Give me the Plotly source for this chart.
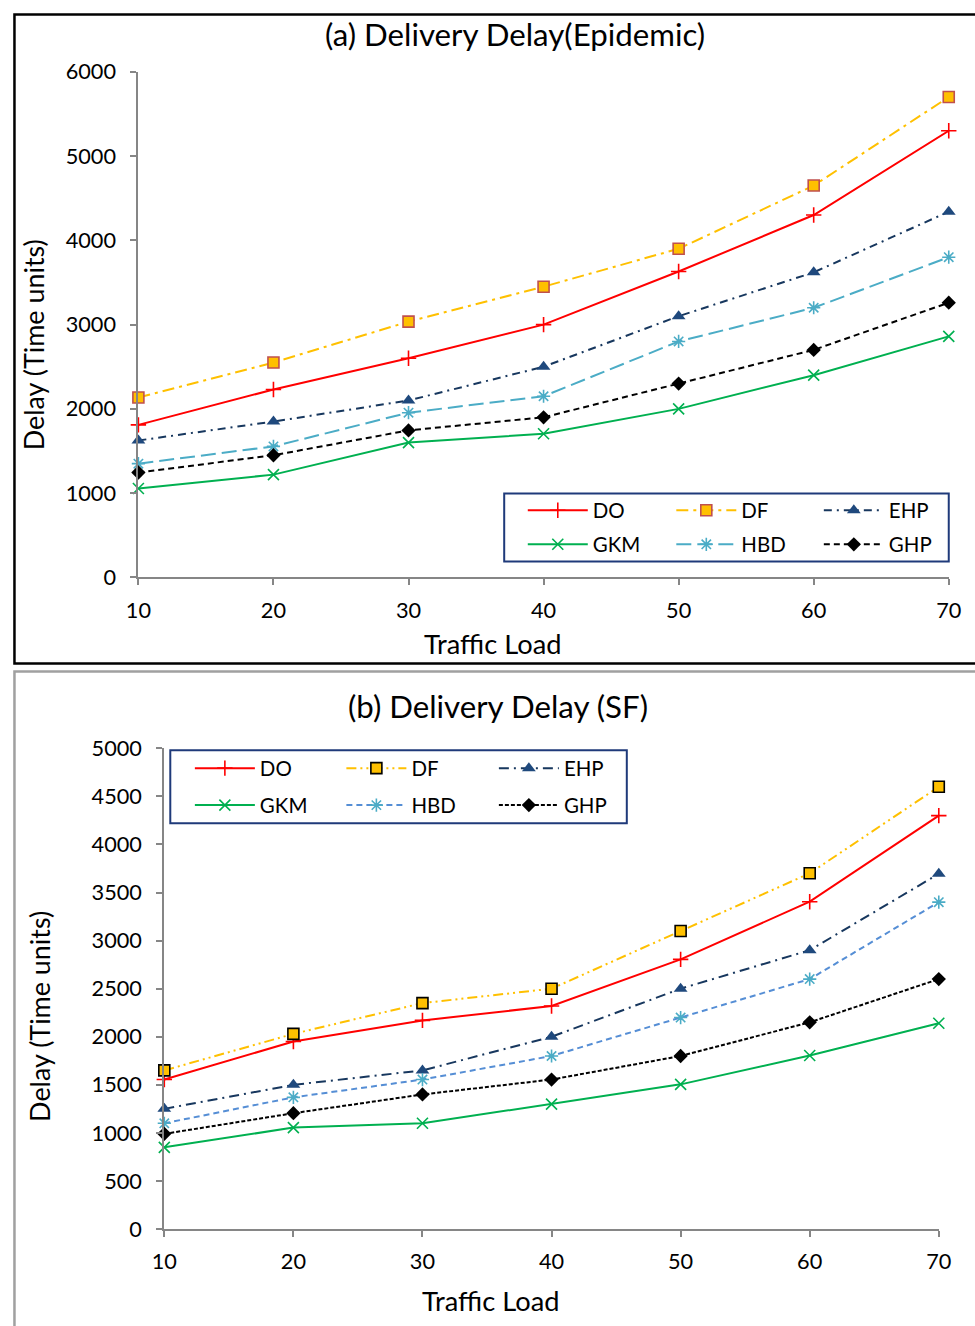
import plotly.graph_objects as go

# ---------------- data ----------------
traffic_load = [10, 20, 30, 40, 50, 60, 70]
series_names = ["DO", "DF", "EHP", "GKM", "HBD", "GHP"]

# (a) Delivery Delay (Epidemic)
epi_DO = [1810, 2230, 2600, 3000, 3630, 4300, 5300]
epi_DF = [2135, 2550, 3035, 3450, 3900, 4650, 5700]
epi_EHP = [1625, 1850, 2100, 2500, 3100, 3620, 4340]
epi_GKM = [1055, 1220, 1600, 1705, 2000, 2400, 2860]
epi_HBD = [1350, 1555, 1955, 2150, 2800, 3200, 3800]
epi_GHP = [1245, 1450, 1745, 1900, 2300, 2700, 3260]

# (b) Delivery Delay (SF)
sf_DO = [1555, 1950, 2170, 2320, 2805, 3405, 4300]
sf_DF = [1650, 2030, 2350, 2500, 3100, 3700, 4600]
sf_EHP = [1250, 1500, 1650, 2000, 2500, 2900, 3695]
sf_GKM = [850, 1055, 1100, 1300, 1505, 1805, 2140]
sf_HBD = [1100, 1370, 1555, 1800, 2200, 2600, 3400]
sf_GHP = [990, 1205, 1400, 1555, 1800, 2150, 2600]

y_ticks_a = [0, 1000, 2000, 3000, 4000, 5000, 6000]
y_ticks_b = [0, 500, 1000, 1500, 2000, 2500, 3000, 3500, 4000, 4500, 5000]

W, H = 975, 1326
FONT = "Lato"

# mapping from target-picture pixels to page pixels (measured from renders)
SX, OXP = 0.9765, 11.2
SY, OYP = 0.981, 13.2

def page_x(x):
    return (x - OXP) / SX

def page_y(y):
    return (y - OYP) / SY

def px_x(x):
    return page_x(x) / W

def px_y(y):
    return 1 - page_y(y) / H

def fs(s):
    return s / SX

styles_a = {
    "DO": dict(line=dict(color="#FF0000", width=2, dash="solid"),
               marker=dict(symbol="cross-thin", size=11, color="#FF0000", line=dict(color="#FF0000", width=1.6))),
    "DF": dict(line=dict(color="#FFC000", width=2, dash="12px,5px,3px,5px"),
               marker=dict(symbol="square", size=11, color="#FFC000", line=dict(color="#C0504D", width=1.6))),
    "EHP": dict(line=dict(color="#17375E", width=2, dash="8px,5px,2px,5px"),
                marker=dict(symbol="triangle-up", size=12, color="#1F497D", line=dict(color="#1F497D", width=0))),
    "GKM": dict(line=dict(color="#00B050", width=2, dash="solid"),
                marker=dict(symbol="x-thin", size=11, color="#00B050", line=dict(color="#00B050", width=1.6))),
    "HBD": dict(line=dict(color="#4BACC6", width=2, dash="15px,6px"),
                marker=dict(symbol="asterisk", size=11, color="#4BACC6", line=dict(color="#4BACC6", width=1.6))),
    "GHP": dict(line=dict(color="#000000", width=2, dash="6px,4px"),
                marker=dict(symbol="diamond", size=11, color="#000000", line=dict(color="#000000", width=0))),
}
styles_b = {
    "DO": dict(line=dict(color="#FF0000", width=2, dash="solid"),
               marker=dict(symbol="cross-thin", size=11, color="#FF0000", line=dict(color="#FF0000", width=1.6))),
    "DF": dict(line=dict(color="#FFC000", width=2, dash="10px,4px,2px,4px,2px,4px"),
               marker=dict(symbol="square", size=11, color="#FFC000", line=dict(color="#000000", width=1.6))),
    "EHP": dict(line=dict(color="#17375E", width=2, dash="10px,5px,2px,5px"),
                marker=dict(symbol="triangle-up", size=12, color="#1F497D", line=dict(color="#1F497D", width=0))),
    "GKM": dict(line=dict(color="#00B050", width=2, dash="solid"),
                marker=dict(symbol="x-thin", size=11, color="#00B050", line=dict(color="#00B050", width=1.6))),
    "HBD": dict(line=dict(color="#558ED5", width=2, dash="6px,4px"),
                marker=dict(symbol="asterisk", size=11, color="#4BACC6", line=dict(color="#4BACC6", width=1.6))),
    "GHP": dict(line=dict(color="#000000", width=2, dash="4px,2px"),
                marker=dict(symbol="diamond", size=11, color="#000000", line=dict(color="#000000", width=0))),
}

data_a = {"DO": epi_DO, "DF": epi_DF, "EHP": epi_EHP, "GKM": epi_GKM, "HBD": epi_HBD, "GHP": epi_GHP}
data_b = {"DO": sf_DO, "DF": sf_DF, "EHP": sf_EHP, "GKM": sf_GKM, "HBD": sf_HBD, "GHP": sf_GHP}

# legend item positions (text start x, row center y) in target pixels
leg_pos_a = {"DO": (591, 511), "DF": (740, 511), "EHP": (888, 511),
             "GKM": (591, 545), "HBD": (740, 545), "GHP": (888, 545)}
leg_pos_b = {"DO": (257, 769), "DF": (409, 769), "EHP": (562, 769),
             "GKM": (257, 806), "HBD": (409, 806), "GHP": (562, 806)}
ITEMW = 60

fig = go.Figure()
layout_legends = {}
lid = 1
for panel, data, styles, legpos, xa, ya in [
    ("a", data_a, styles_a, leg_pos_a, "x", "y"),
    ("b", data_b, styles_b, leg_pos_b, "x2", "y2"),
]:
    for name in series_names:
        key = "legend" if lid == 1 else f"legend{lid}"
        st = styles[name]
        fig.add_trace(go.Scatter(
            x=traffic_load, y=data[name], name=name, mode="lines+markers",
            line=st["line"], marker=st["marker"], xaxis=xa, yaxis=ya,
            legend=key, cliponaxis=False,
        ))
        tx, ty = legpos[name]
        layout_legends[key] = dict(
            x=(page_x(tx) - ITEMW - 10) / W, y=px_y(ty), xanchor="left", yanchor="middle",
            bgcolor="rgba(0,0,0,0)", borderwidth=0, itemwidth=ITEMW,
            font=dict(family=FONT, size=fs(20), color="#000000"),
        )
        lid += 1

axis_common = dict(
    showgrid=False, zeroline=False, showline=True, linecolor="#868686", linewidth=2,
    ticks="outside", ticklen=6, tickwidth=2, tickcolor="#868686",
    tickfont=dict(family=FONT, size=fs(21.2), color="#000000"),
)

fig.update_layout(
    width=W, height=H, margin=dict(l=0, r=0, t=0, b=0),
    paper_bgcolor="white", plot_bgcolor="white",
    xaxis=dict(domain=[px_x(137), px_x(950)], range=[10, 70], tickvals=traffic_load,
               anchor="y", ticklabelstandoff=6, **axis_common),
    yaxis=dict(domain=[px_y(578), px_y(72)], range=[0, 6000], tickvals=y_ticks_a,
               anchor="x", ticklabelstandoff=10, **axis_common),
    xaxis2=dict(domain=[px_x(163), px_x(940)], range=[10, 70], tickvals=traffic_load,
                anchor="y2", ticklabelstandoff=6, **axis_common),
    yaxis2=dict(domain=[px_y(1230), px_y(749)], range=[0, 5000], tickvals=y_ticks_b,
                anchor="x2", ticklabelstandoff=10, **axis_common),
    showlegend=True,
    **layout_legends,
)

def ann(text, x, y, size, angle=0):
    fig.add_annotation(text=text, x=px_x(x), y=px_y(y), xref="paper", yref="paper",
                       showarrow=False, textangle=angle, xanchor="center", yanchor="middle",
                       font=dict(family=FONT, size=fs(size), color="#000000"))

ann("(a) Delivery Delay(Epidemic)", 515, 34, 30.5)
ann("Traffic Load", 492, 644, 26.6)
ann("Delay (Time units)", 32, 345, 26.3, -90)
ann("(b) Delivery Delay (SF)", 498, 707, 30.5)
ann("Traffic Load", 490, 1301, 26.6)
ann("Delay (Time units)", 37, 1017, 26.3, -90)

# outer frames
fig.add_shape(type="rect", xref="paper", yref="paper",
              x0=1.5 / W, x1=1.02, y0=px_y(664), y1=1 - 1.5 / H,
              line=dict(color="#000000", width=2.5), fillcolor="rgba(0,0,0,0)", layer="below")
fig.add_shape(type="rect", xref="paper", yref="paper",
              x0=1.5 / W, x1=1.02, y0=-0.02, y1=px_y(672),
              line=dict(color="#A0A0A0", width=2.5), fillcolor="rgba(0,0,0,0)", layer="below")
# legend boxes
fig.add_shape(type="rect", xref="paper", yref="paper",
              x0=px_x(504), x1=px_x(950), y0=px_y(562), y1=px_y(494),
              line=dict(color="#1F3A7A", width=2), fillcolor="white", layer="below")
fig.add_shape(type="rect", xref="paper", yref="paper",
              x0=px_x(169), x1=px_x(627), y0=px_y(824), y1=px_y(751),
              line=dict(color="#1F3A7A", width=2), fillcolor="white", layer="below")

fig.write_html("out.html")
